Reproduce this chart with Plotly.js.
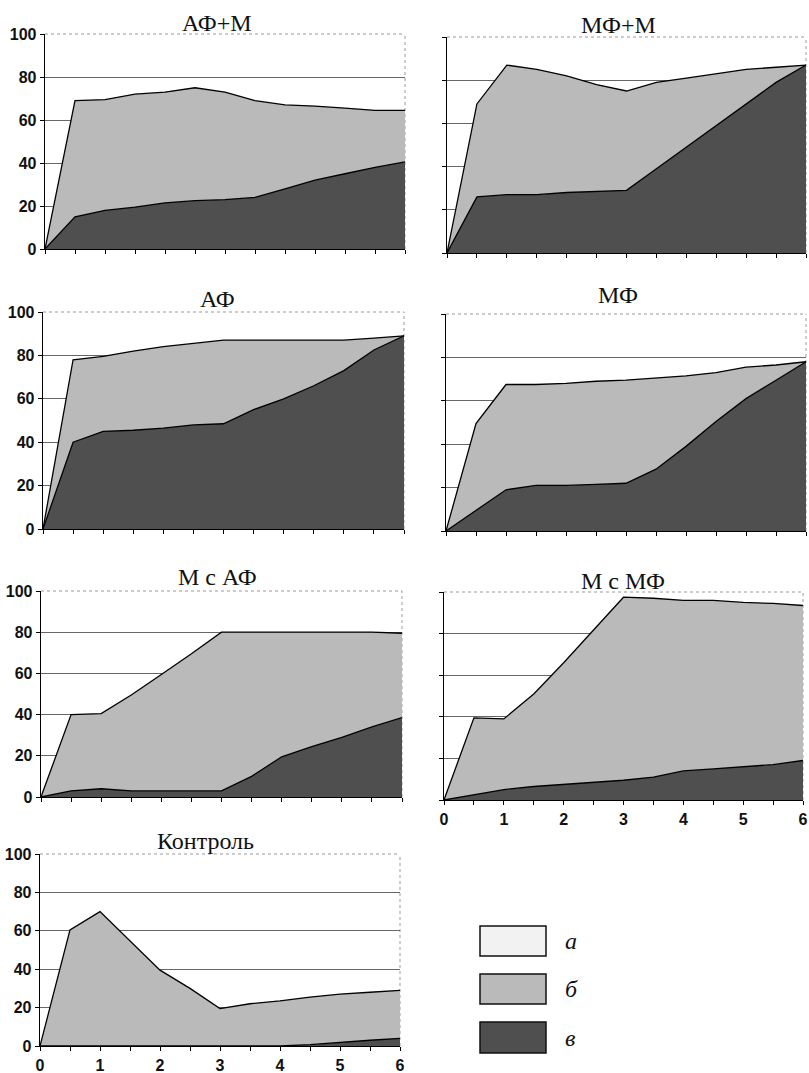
<!DOCTYPE html>
<html><head><meta charset="utf-8">
<script src="https://cdn.plot.ly/plotly-3.0.1.min.js"></script>
<style>html,body{margin:0;padding:0;background:#fff}#chart{width:809px;height:1073px}</style>
</head><body><div id="chart"></div>
<script>
// time points (x)
const days = [0,0.5,1,1.5,2,2.5,3,3.5,4,4.5,5,5.5,6];
const xTickText = ['0','','1','','2','','3','','4','','5','','6'];
const yTickVals = [0,20,40,60,80,100];
const panelTitles = ['АФ+М','МФ+М','АФ','МФ','М с АФ','М с МФ','Контроль'];
const legendLabels = ['а','б','в'];

// series "в" (dark, bottom) and "б" (light, stacked on top) per panel
const afm_v   = [0,15,18,19.5,21.5,22.5,23,24,28,32,35,38,40.5];
const afm_b   = [0,54,51.5,52.5,51.5,52.5,50,45,39,34.5,30.5,26.5,24];
const mfm_v   = [0,26,27,27,28,28.5,29,39,49,59,69,79,87];
const mfm_b   = [0,43,60,58,54,49.5,46,40,32,24,16,7,0];
const af_v    = [0,40,45,45.5,46.5,48,48.5,55,60,66,73,82.5,89];
const af_b    = [0,38,34.5,36.5,37.5,37.5,38.5,32,27,21,14,5.5,0];
const mf_v    = [0,9.5,19,21,21,21.5,22,28.5,39,50.5,61,69.5,78];
const mf_b    = [0,40,48.5,46.5,47,47.5,47.5,42,32.5,22.5,14.5,7,0];
const msaf_v  = [0,3,4,3,3,3,3,10,19.5,24.5,29,34,38.5];
const msaf_b  = [0,37,36.5,46.5,56.5,66.5,77,70,60.5,55.5,51,46,41];
const msmf_v  = [0,2.5,5,6.5,7.5,8.5,9.5,11,14,15,16,17,19];
const msmf_b  = [0,37,34,44.5,58.5,73.5,88,86,82,81,79,77.5,74.5];
const ctrl_v  = [0,0,0,0,0,0,0,0,0,0.7,2,3,4];
const ctrl_b  = [0,60.5,70,54.5,39.5,30,19.5,22,23.5,24.8,25,25,25];

const vSeries = [afm_v, mfm_v, af_v, mf_v, msaf_v, msmf_v, ctrl_v];
const bSeries = [afm_b, mfm_b, af_b, mf_b, msaf_b, msmf_b, ctrl_b];

const W = 809, H = 1073;
// panel boxes in pixels: [left, right, top, bottom]
const boxes = [
  [45,405,34,249],
  [447,806,37,253],
  [43,404,312,529],
  [446,806,314,531],
  [41,402,591,797],
  [444,803,592,800],
  [40,400,854,1046]
];
const titlePos = [[217,23],[618,25],[217,299],[618,295],[218,577],[623,581],[205,841]];
const showY = [true,false,true,false,true,false,true];
const showX = [false,false,false,false,false,true,true];

const colV = '#4f4f4f', colB = '#bababa', colA = '#f2f2f2';
const tickFont = {family:'Liberation Sans, Arial, sans-serif', size:16, color:'#111', weight:'bold'};

const traces = [];
const layout = {
  width: W, height: H, margin:{l:0,r:0,t:0,b:0},
  paper_bgcolor:'#fff', plot_bgcolor:'#fff', showlegend:false,
  annotations: [], shapes: []
};

for (let i = 0; i < 7; i++) {
  const n = i === 0 ? '' : String(i+1);
  const xa = 'x' + n, ya = 'y' + n;
  traces.push({x: days, y: vSeries[i], xaxis: xa, yaxis: ya, type:'scatter', mode:'lines',
    stackgroup:'s'+i, fillcolor: colV, line:{color:'#000', width:1.3}, name:'в'});
  traces.push({x: days, y: bSeries[i], xaxis: xa, yaxis: ya, type:'scatter', mode:'lines',
    stackgroup:'s'+i, fillcolor: colB, line:{color:'#000', width:1.3}, name:'б'});
  const b = boxes[i];
  layout['xaxis'+n] = {
    domain:[b[0]/W, b[1]/W], range:[0,6], anchor: ya,
    tickmode:'array', tickvals: days, ticktext: xTickText, showticklabels: showX[i],
    ticks:'outside', ticklen:4, tickwidth:1, tickcolor:'#000',
    showline:true, linecolor:'#000', linewidth:1.3, showgrid:false, zeroline:false,
    tickfont: tickFont, ticklabelstandoff: 0, fixedrange:true
  };
  layout['yaxis'+n] = {
    domain:[1-b[3]/H, 1-b[2]/H], range:[0,100], anchor: xa,
    tickmode:'array', tickvals: yTickVals, showticklabels: showY[i],
    ticks:'outside', ticklen:4, tickwidth:1, tickcolor:'#000',
    showline:true, linecolor:'#000', linewidth:1.3,
    showgrid:true, gridcolor:'#666', gridwidth:1, zeroline:false,
    tickfont: tickFont, fixedrange:true
  };
  layout.shapes.push({type:'line', xref: xa+' domain', yref: ya+' domain', x0:0, x1:1, y0:1, y1:1,
    line:{color:'#999', width:1, dash:'dot'}, layer:'above'});
  layout.shapes.push({type:'line', xref: xa+' domain', yref: ya+' domain', x0:1, x1:1, y0:0, y1:1,
    line:{color:'#999', width:1, dash:'dot'}, layer:'below'});
  layout.annotations.push({text: panelTitles[i], xref:'paper', yref:'paper',
    x: titlePos[i][0]/W, y: 1 - titlePos[i][1]/H, xanchor:'center', yanchor:'middle', showarrow:false,
    font:{family:'Liberation Serif, Times New Roman, serif', size:24, color:'#111'}});
}

// legend drawn with shapes and annotations
const legendFills = [colA, colB, colV];
const legendRows = [[926,956],[974,1004],[1022,1053]];
for (let k = 0; k < 3; k++) {
  layout.shapes.push({type:'rect', xref:'paper', yref:'paper',
    x0: 480/W, x1: 546/W, y0: 1-legendRows[k][1]/H, y1: 1-legendRows[k][0]/H,
    fillcolor: legendFills[k], line:{color:'#111', width:1.5}});
  layout.annotations.push({text: legendLabels[k], xref:'paper', yref:'paper',
    x: 563/W, y: 1 - (legendRows[k][0]+legendRows[k][1])/2/H, xanchor:'left', yanchor:'middle', showarrow:false,
    font:{family:'Liberation Serif, Times New Roman, serif', size:24, color:'#111', style:'italic'}});
}

Plotly.newPlot('chart', traces, layout, {displayModeBar:false, staticPlot:true});
</script>
</body></html>
